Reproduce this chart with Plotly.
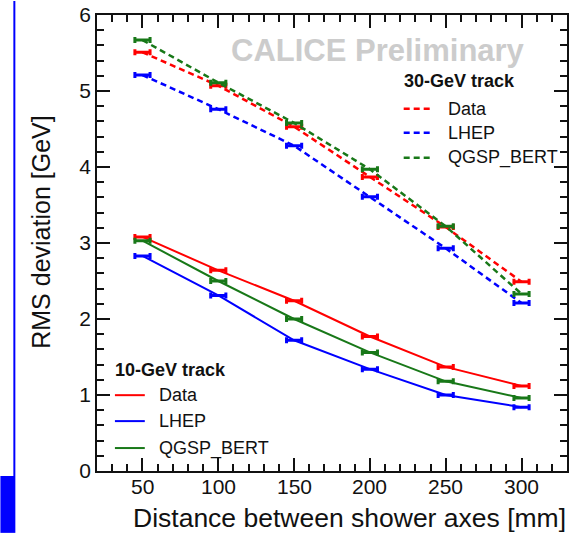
import plotly.graph_objects as go

# Distance between shower axes [mm]
distance = [50, 100, 150, 200, 250, 300]
distance_err = [5, 5, 5, 5, 5, 5]
x_tick_values = [50, 100, 150, 200, 250, 300]
x_tick_labels = ["50", "100", "150", "200", "250", "300"]

# RMS deviation [GeV], 10-GeV track
data_10 = [3.08, 2.64, 2.24, 1.77, 1.37, 1.12]
lhep_10 = [2.83, 2.31, 1.72, 1.34, 1.00, 0.84]
qgsp_10 = [3.03, 2.50, 2.00, 1.56, 1.18, 0.96]

# RMS deviation [GeV], 30-GeV track
data_30 = [5.51, 5.07, 4.53, 3.87, 3.21, 2.49]
lhep_30 = [5.21, 4.76, 4.28, 3.61, 2.93, 2.21]
qgsp_30 = [5.67, 5.11, 4.58, 3.97, 3.22, 2.33]

series_names = ["Data", "LHEP", "QGSP_BERT"]
RED, BLUE, GREEN = "#ff0000", "#0000ff", "#187818"
colors = [RED, BLUE, GREEN]

W, H = 572, 533
PL, PR, PT, PB = 97, 569, 14, 471   # plot frame in pixels
FONT = "Liberation Sans, Arial, sans-serif"


def px(x):
    return (x - PL) / (PR - PL)


def py(y):
    return (PB - y) / (PB - PT)


fig = go.Figure()

for vals, col in zip([data_30, lhep_30, qgsp_30], colors):
    fig.add_trace(go.Scatter(
        x=distance, y=vals, mode="lines",
        line=dict(color=col, width=2.5, dash="6px,4px"),
        error_x=dict(type="data", array=distance_err, color=col,
                     thickness=3, width=3),
        showlegend=False, hoverinfo="skip"))

for vals, col in zip([data_10, lhep_10, qgsp_10], colors):
    fig.add_trace(go.Scatter(
        x=distance, y=vals, mode="lines",
        line=dict(color=col, width=2),
        error_x=dict(type="data", array=distance_err, color=col,
                     thickness=3, width=3),
        showlegend=False, hoverinfo="skip"))

axis_common = dict(
    showline=True, linecolor="#111", linewidth=1.5, mirror="allticks",
    ticks="inside", ticklen=13, tickwidth=1.5, tickcolor="#111",
    showgrid=False, zeroline=False,
    tickfont=dict(family=FONT, size=21, color="#111"),
)

fig.update_xaxes(range=[20, 330], tickvals=x_tick_values, showticklabels=False,
                 minor=dict(ticks="inside", ticklen=7, dtick=10, tick0=0, tickwidth=1.5,
                            tickcolor="#111", showgrid=False),
                 **axis_common)
fig.update_yaxes(range=[0, 6], tick0=0, dtick=1,
                 minor=dict(ticks="inside", ticklen=7, dtick=0.2, tickwidth=1.5,
                            tickcolor="#111", showgrid=False),
                 **axis_common)

annotations = []
shapes = []

# x tick labels, placed just under the frame
for v, lab in zip(x_tick_values, x_tick_labels):
    annotations.append(dict(text=lab, x=v, y=py(487), xref="x", yref="paper",
                            xanchor="center", yanchor="middle", showarrow=False,
                            font=dict(family=FONT, size=21, color="#111")))

# axis titles
annotations.append(dict(text="Distance between shower axes [mm]", x=px(570), y=py(518),
                        xref="paper", yref="paper", xanchor="right", yanchor="middle",
                        showarrow=False, font=dict(family=FONT, size=26.5, color="#111")))
annotations.append(dict(text="RMS deviation [GeV]", x=px(40), y=py(232), textangle=-90,
                        xref="paper", yref="paper", xanchor="center", yanchor="middle",
                        showarrow=False, font=dict(family=FONT, size=25, color="#111")))

# watermark
annotations.append(dict(text="<b>CALICE Preliminary</b>", x=px(379), y=py(50),
                        xref="paper", yref="paper", xanchor="center", yanchor="middle",
                        showarrow=False, font=dict(family=FONT, size=31, color="#cccccc")))


def legend_block(header, hx, hy, lx0, lx1, tx, ys, dash):
    annotations.append(dict(text="<b>%s</b>" % header, x=px(hx), y=py(hy),
                            xref="paper", yref="paper", xanchor="left", yanchor="middle",
                            showarrow=False, font=dict(family=FONT, size=18, color="#111")))
    for name, col, yy in zip(series_names, colors, ys):
        shapes.append(dict(type="line", xref="paper", yref="paper",
                           x0=px(lx0), x1=px(lx1), y0=py(yy), y1=py(yy),
                           line=dict(color=col, width=2.5 if dash else 2,
                                     dash="6px,4px" if dash else "solid")))
        annotations.append(dict(text=name, x=px(tx), y=py(yy),
                                xref="paper", yref="paper", xanchor="left", yanchor="middle",
                                showarrow=False, font=dict(family=FONT, size=18, color="#111")))


legend_block("30-GeV track", 403, 80, 405, 432, 447, [108, 132, 157], True)
legend_block("10-GeV track", 113, 370, 115, 145, 157, [395, 421, 448], False)

# slide border on the left edge
shapes.append(dict(type="rect", xref="paper", yref="paper",
                   x0=px(13), x1=px(15), y0=py(0), y1=py(476),
                   fillcolor="#0000ff", line=dict(width=0), layer="above"))
shapes.append(dict(type="rect", xref="paper", yref="paper",
                   x0=px(0), x1=px(15), y0=py(476), y1=py(533),
                   fillcolor="#0000ff", line=dict(width=0), layer="above"))

fig.update_layout(
    width=W, height=H,
    margin=dict(l=PL, r=W - PR, t=PT, b=H - PB),
    paper_bgcolor="white", plot_bgcolor="white",
    annotations=annotations, shapes=shapes,
    showlegend=False,
)

fig.write_html("out.html")
